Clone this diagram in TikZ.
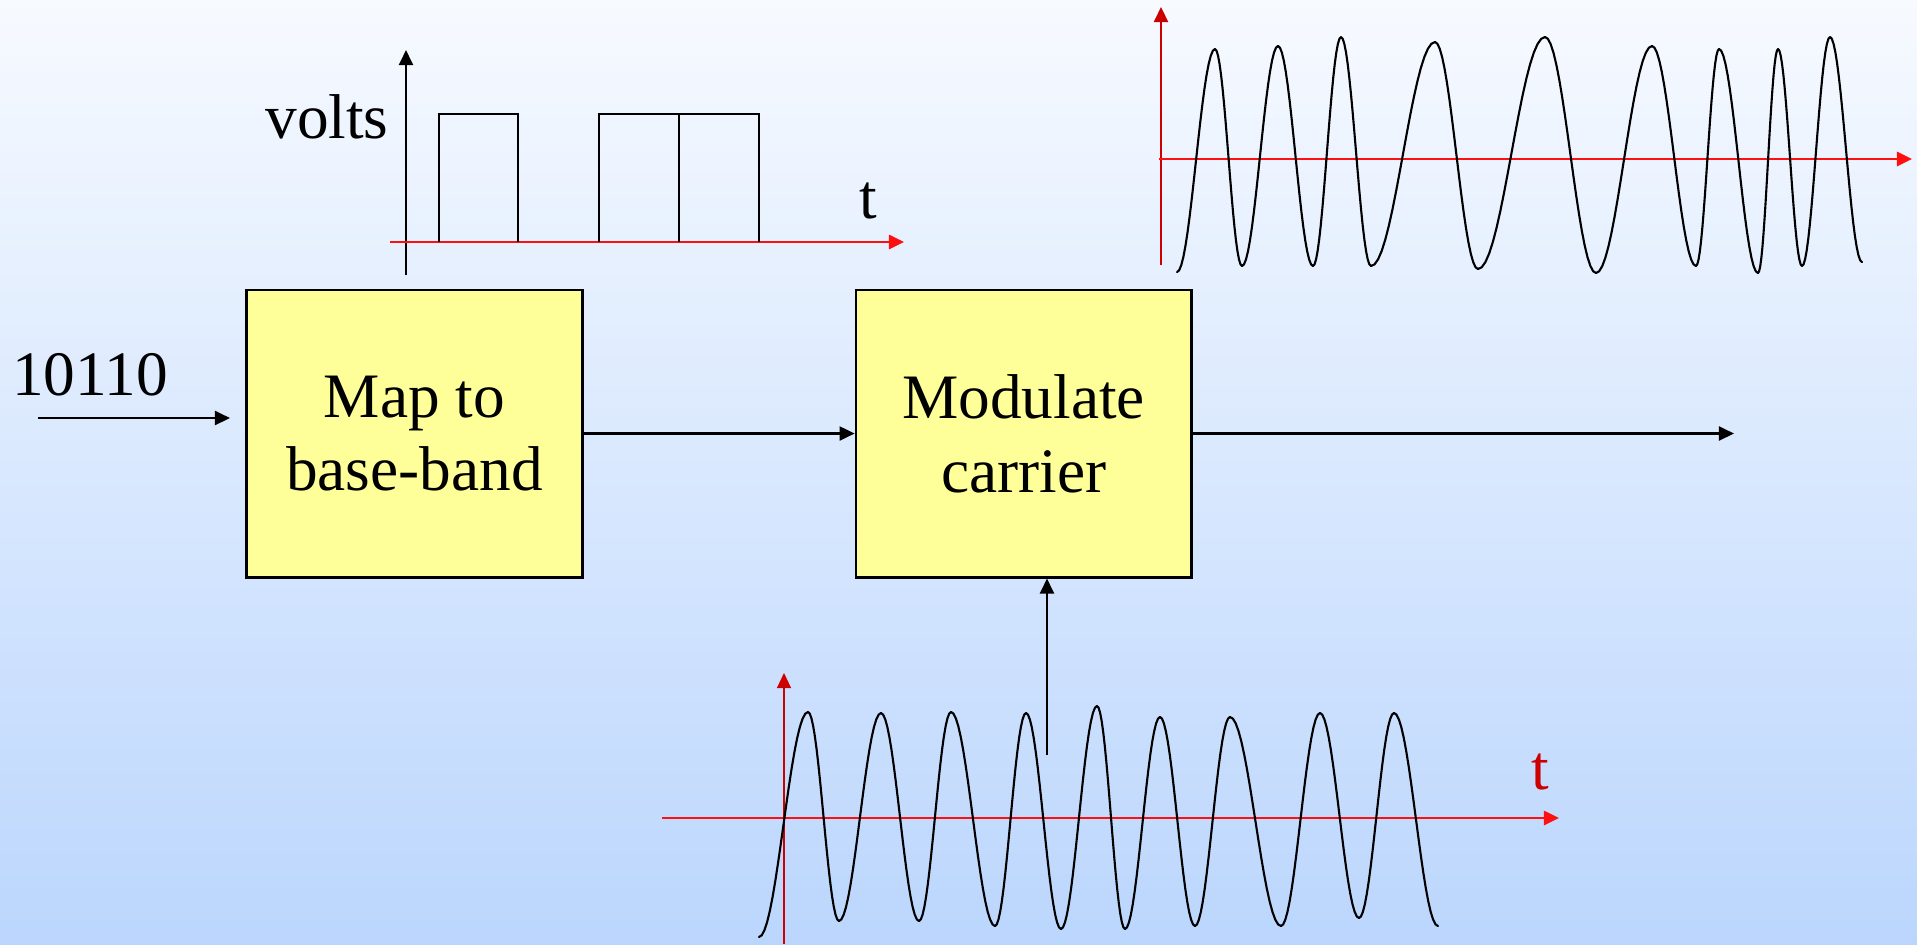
\documentclass[tikz,border=0pt]{standalone}
\usepackage{fontspec}
\setmainfont{Liberation Serif}
\usetikzlibrary{arrows.meta, positioning}

\definecolor{boxyellow}{HTML}{FFFF99}
\definecolor{bgtop}{HTML}{F7FAFF}
\definecolor{bgbottom}{HTML}{BBD6FD}
\definecolor{axisred}{HTML}{FF1010}
\definecolor{darkred}{HTML}{CC0000}

\begin{document}
\begin{tikzpicture}[x=0.01cm, y=-0.01cm,
    >={Triangle[length=4.3pt, width=4pt]},
    block/.style={draw, line width=0.8pt, fill=boxyellow, align=center,
        minimum width=3.35cm, minimum height=2.87cm, inner sep=0pt,
        font=\fontsize{18}{21}\selectfont},
    link/.style={->, line width=0.6pt},
    redaxis/.style={->, axisred, line width=0.8pt},
    wave/.style={line width=0.6pt, line cap=round},
    lbl/.style={font=\fontsize{18}{21}\selectfont, inner sep=0pt, anchor=base}]

    % =================================================================
    % 1. NỀN VÀ KHUNG ẢNH
    % =================================================================
    \useasboundingbox (0,0) rectangle (1917,944);
    \shade[top color=bgtop, bottom color=bgbottom] (0,0) rectangle (1917,944);

    % =================================================================
    % 2. HAI KHỐI XỬ LÝ
    % =================================================================
    \node[block] (map) at (414.5,433.5) {Map to\\base-band};
    \node[block, right=2.71cm of map] (mod) {Modulate\\carrier};

    % Các điểm đầu/cuối tự do của mũi tên
    \coordinate (inS) at (38,418);
    \coordinate (inE) at (230,418);
    \coordinate (outE) at (1734,433.5);
    \coordinate (carTop) at (1047,755);

    % =================================================================
    % 3. CÁC MŨI TÊN NỐI
    % =================================================================
    \draw[link] (inS) -- (inE);
    \draw[link] (map) -- (mod);
    \draw[link] (mod.east) -- (outE);
    \draw[link] (carTop) -- (carTop |- mod.south);

    \node[lbl] (bits) at (90,395) {10110};

    % =================================================================
    % 4. TÍN HIỆU BĂNG GỐC (XUNG VUÔNG)
    % =================================================================
    \draw[->, line width=0.6pt] (406,275) -- (406,50);
    \draw[redaxis] (390,242) -- (904,242);
    \draw[line width=0.6pt] (439,242) -- (439,114) -- (518,114) -- (518,242);
    \draw[line width=0.6pt] (599,242) -- (599,114) -- (759,114) -- (759,242);
    \draw[line width=0.6pt] (679,114) -- (679,242);
    \node[lbl] (volts) at (327,138) {volts};
    \node[lbl] (tBase) at (868,218) {t};

    % =================================================================
    % 5. TÍN HIỆU ĐÃ ĐIỀU CHẾ (GÓC TRÊN PHẢI)
    % =================================================================
    \draw[->, darkred, line width=0.7pt] (1161,265) -- (1161,7);
    \draw[redaxis] (1159,159) -- (1912,159);
    \foreach \px/\py [remember=\px as \lx (initially 1177),
                      remember=\py as \ly (initially 272)] in
        {1215/49, 1242/266, 1278/46, 1313/266, 1341/37, 1371/266,
         1435/42, 1478/269, 1545/37, 1596/273, 1652/46, 1696/266,
         1719/49, 1758/273, 1778/49, 1802/266, 1830/37, 1862/262}
        \draw[wave] plot[domain=0:180, samples=19]
            ({\lx+(\px-\lx)*(\x/180)}, {(\ly+\py)/2+(\ly-\py)/2*cos(\x)});

    % =================================================================
    % 6. SÓNG MANG (PHÍA DƯỚI)
    % =================================================================
    \draw[->, darkred, line width=0.4pt] (784,944) -- (784,673);
    \draw[redaxis] (662,818) -- (1559,818);
    \foreach \px/\py [remember=\px as \lx (initially 759),
                      remember=\py as \ly (initially 937)] in
        {808/712, 839/921, 881/713, 919/921, 951/712, 995/926,
         1026/713, 1061/929, 1097/706, 1125/929, 1160/717, 1195/926,
         1230/717, 1281/926, 1320/713, 1359/918, 1394/713, 1438/926}
        \draw[wave] plot[domain=0:180, samples=19]
            ({\lx+(\px-\lx)*(\x/180)}, {(\ly+\py)/2+(\ly-\py)/2*cos(\x)});
    \node[lbl, text=darkred] (tCar) at (1540,789) {t};

\end{tikzpicture}
\end{document}
